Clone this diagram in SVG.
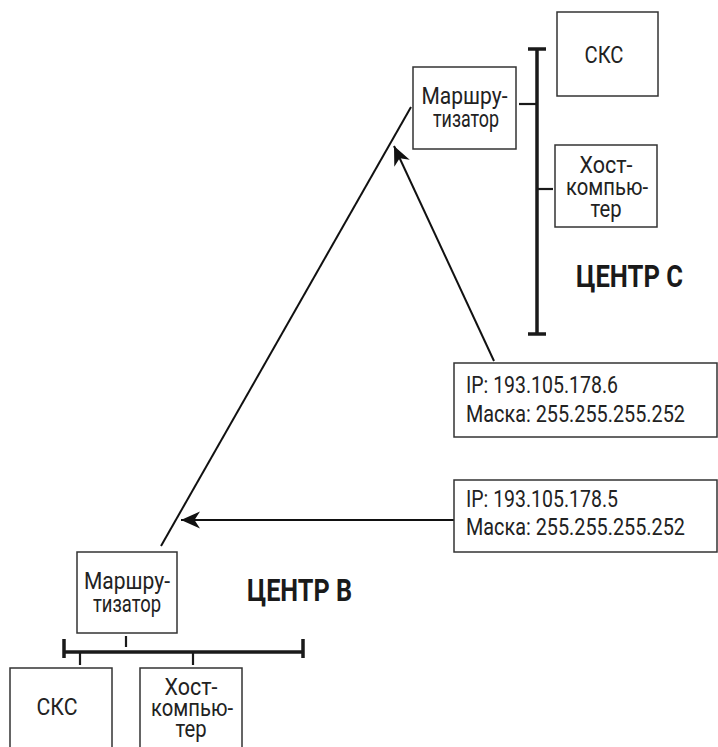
<svg xmlns="http://www.w3.org/2000/svg" width="718" height="747" viewBox="0 0 718 747">
  <defs>
    <marker id="barb" markerUnits="userSpaceOnUse" viewBox="-20 -10 22 20" refX="0" refY="0" markerWidth="22" markerHeight="20" orient="auto">
      <path d="M0,0 L-19,-8.5 L-13.5,0 L-19,8.5 Z" fill="#111"/>
    </marker>
  </defs>
  <style>
    .box { fill: #fff; stroke: #333; stroke-width: 1.5; }
    .t { font-family: Roboto, "Liberation Sans", sans-serif; font-size: 24.5px; fill: #222; text-anchor: middle; }
    .tl { font-family: Roboto, "Liberation Sans", sans-serif; font-size: 24.5px; fill: #222; }
    .big { font-family: Roboto, "Liberation Sans", sans-serif; font-size: 31px; font-weight: bold; fill: #1a1a1a; }
    .link { stroke: #111; stroke-width: 2; fill: none; }
    .bus { stroke: #1a1a1a; stroke-width: 3.5; fill: none; }
    .stub { stroke: #1a1a1a; stroke-width: 2.2; fill: none; }
  </style>

  <rect width="718" height="747" fill="#fff"/>

  <!-- links between the two centres -->
  <g id="connectors">
    <line class="link" x1="161" y1="546" x2="411" y2="107"/>
    <line class="link" x1="494" y1="361" x2="394" y2="146" marker-end="url(#barb)"/>
    <line class="link" x1="454" y1="520" x2="181" y2="520" marker-end="url(#barb)"/>

    <!-- centre C segment -->
    <line class="bus" x1="537" y1="49" x2="537" y2="334"/>
    <line class="bus" x1="528" y1="49" x2="546" y2="49"/>
    <line class="bus" x1="528" y1="334" x2="546" y2="334"/>
    <line class="stub" x1="519" y1="104" x2="537" y2="104"/>
    <line class="stub" x1="537" y1="189" x2="553" y2="189"/>

    <!-- centre B segment -->
    <line class="bus" x1="64" y1="652" x2="303" y2="652"/>
    <line class="bus" x1="64" y1="639" x2="64" y2="658"/>
    <line class="bus" x1="303" y1="639" x2="303" y2="658"/>
    <line class="stub" x1="126" y1="636" x2="126" y2="647"/>
    <line class="stub" x1="80" y1="652" x2="80" y2="665"/>
    <line class="stub" x1="193" y1="652" x2="193" y2="665"/>
  </g>

  <!-- centre C -->
  <g id="router-c">
    <rect class="box" x="413" y="67" width="103" height="82"/>
    <text class="t" x="464.5" y="104" textLength="86" lengthAdjust="spacingAndGlyphs">Маршру-</text>
    <text class="t" x="466" y="127" textLength="66" lengthAdjust="spacingAndGlyphs">тизатор</text>
  </g>
  <g id="scs-c">
    <rect class="box" x="557" y="12" width="101" height="84"/>
    <text class="t" x="604" y="63" textLength="39" lengthAdjust="spacingAndGlyphs">СКС</text>
  </g>
  <g id="host-c">
    <rect class="box" x="555" y="145" width="102" height="82"/>
    <text class="t" x="606" y="173" textLength="53" lengthAdjust="spacingAndGlyphs">Хост-</text>
    <text class="t" x="607" y="195" textLength="82" lengthAdjust="spacingAndGlyphs">компью-</text>
    <text class="t" x="606" y="217" textLength="31" lengthAdjust="spacingAndGlyphs">тер</text>
  </g>
  <g id="label-c">
    <text class="big" x="576" y="287" textLength="107" lengthAdjust="spacingAndGlyphs">ЦЕНТР С</text>
  </g>

  <!-- address boxes -->
  <g id="addr-c">
    <rect class="box" x="454" y="363" width="263" height="74"/>
    <text class="tl" x="466" y="393" textLength="152" lengthAdjust="spacingAndGlyphs">IP: 193.105.178.6</text>
    <text class="tl" x="466" y="422" textLength="219" lengthAdjust="spacingAndGlyphs">Маска: 255.255.255.252</text>
  </g>
  <g id="addr-b">
    <rect class="box" x="454" y="480" width="263" height="72"/>
    <text class="tl" x="466" y="507" textLength="152" lengthAdjust="spacingAndGlyphs">IP: 193.105.178.5</text>
    <text class="tl" x="466" y="535" textLength="219" lengthAdjust="spacingAndGlyphs">Маска: 255.255.255.252</text>
  </g>

  <!-- centre B -->
  <g id="router-b">
    <rect class="box" x="77" y="552" width="100" height="81"/>
    <text class="t" x="127" y="589" textLength="86" lengthAdjust="spacingAndGlyphs">Маршру-</text>
    <text class="t" x="127" y="612" textLength="68" lengthAdjust="spacingAndGlyphs">тизатор</text>
  </g>
  <g id="label-b">
    <text class="big" x="247" y="601" textLength="105" lengthAdjust="spacingAndGlyphs">ЦЕНТР B</text>
  </g>
  <g id="scs-b">
    <rect class="box" x="10" y="668" width="102" height="90"/>
    <text class="t" x="57" y="715" textLength="41" lengthAdjust="spacingAndGlyphs">СКС</text>
  </g>
  <g id="host-b">
    <rect class="box" x="140" y="668" width="102" height="90"/>
    <text class="t" x="191" y="695" textLength="53" lengthAdjust="spacingAndGlyphs">Хост-</text>
    <text class="t" x="192" y="716" textLength="82" lengthAdjust="spacingAndGlyphs">компью-</text>
    <text class="t" x="191" y="737" textLength="31" lengthAdjust="spacingAndGlyphs">тер</text>
  </g>
</svg>
